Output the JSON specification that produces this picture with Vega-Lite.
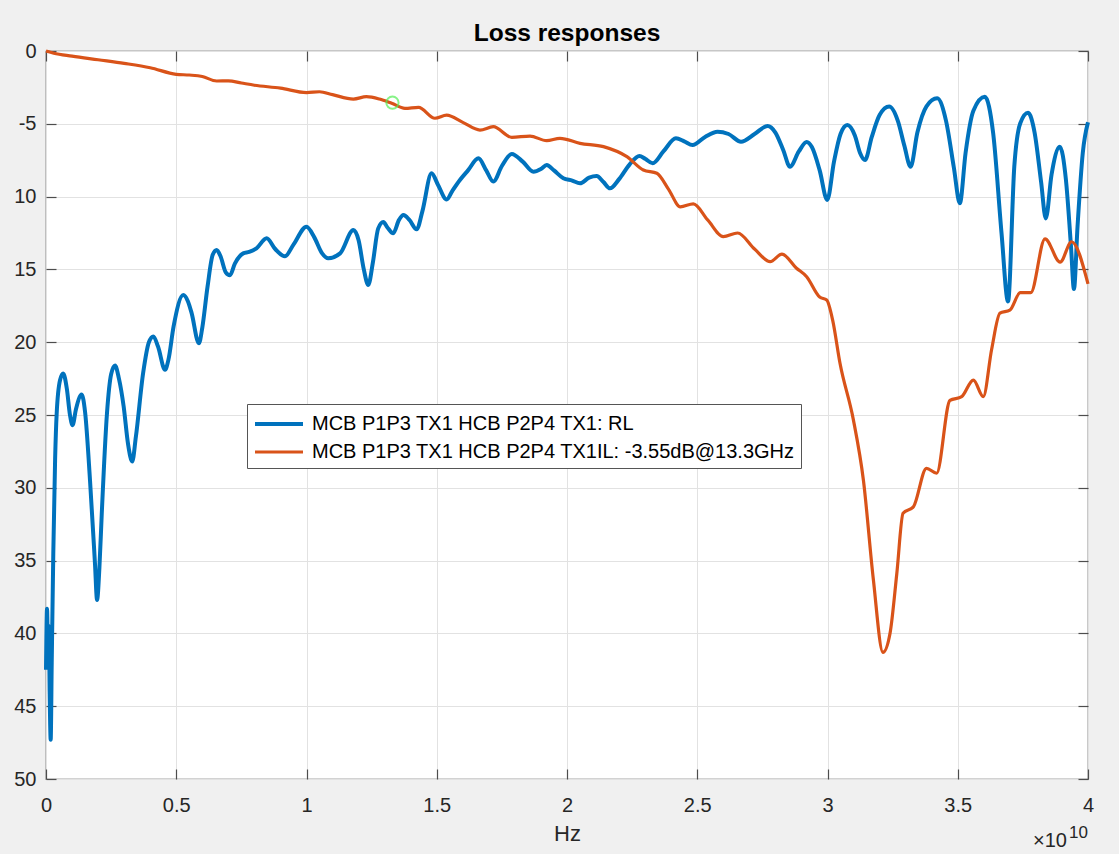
{
  "$schema": "https://vega.github.io/schema/vega-lite/v6.json",
  "width": 1042,
  "height": 728,
  "autosize": {"type": "none"},
  "padding": {"left": 46, "top": 51, "right": 31, "bottom": 75},
  "background": "#f0f0f0",
  "title": {"text": "Loss responses", "fontSize": 24.5, "fontWeight": "bold", "font": "Liberation Sans", "color": "#000000", "offset": -5, "anchor": "middle"},
  "config": {
    "view": {"fill": "white", "stroke": "#4d4d4d", "strokeWidth": 1.2},
    "font": "Liberation Sans"
  },
  "datasets": {
    "curves": [
      {"f": 0.0, "v": -42.5, "s": "RL"},
      {"f": 0.04, "v": -38.3, "s": "RL"},
      {"f": 0.08, "v": -41.8, "s": "RL"},
      {"f": 0.11, "v": -39.5, "s": "RL"},
      {"f": 0.14, "v": -44, "s": "RL"},
      {"f": 0.18, "v": -47.3, "s": "RL"},
      {"f": 0.22, "v": -42, "s": "RL"},
      {"f": 0.28, "v": -34.5, "s": "RL"},
      {"f": 0.35, "v": -28, "s": "RL"},
      {"f": 0.41, "v": -24.9, "s": "RL"},
      {"f": 0.54, "v": -22.6, "s": "RL"},
      {"f": 0.66, "v": -22.15, "s": "RL"},
      {"f": 0.8, "v": -23.2, "s": "RL"},
      {"f": 0.92, "v": -25, "s": "RL"},
      {"f": 1.02, "v": -25.7, "s": "RL"},
      {"f": 1.15, "v": -24.6, "s": "RL"},
      {"f": 1.37, "v": -23.6, "s": "RL"},
      {"f": 1.5, "v": -24.8, "s": "RL"},
      {"f": 1.69, "v": -29.5, "s": "RL"},
      {"f": 1.88, "v": -35.2, "s": "RL"},
      {"f": 1.96, "v": -37.7, "s": "RL"},
      {"f": 2.05, "v": -35.5, "s": "RL"},
      {"f": 2.14, "v": -31.8, "s": "RL"},
      {"f": 2.34, "v": -24.9, "s": "RL"},
      {"f": 2.5, "v": -22.2, "s": "RL"},
      {"f": 2.65, "v": -21.6, "s": "RL"},
      {"f": 2.8, "v": -22.5, "s": "RL"},
      {"f": 2.98, "v": -24.4, "s": "RL"},
      {"f": 3.15, "v": -27, "s": "RL"},
      {"f": 3.31, "v": -28.2, "s": "RL"},
      {"f": 3.45, "v": -26.5, "s": "RL"},
      {"f": 3.73, "v": -22.1, "s": "RL"},
      {"f": 3.95, "v": -20, "s": "RL"},
      {"f": 4.12, "v": -19.6, "s": "RL"},
      {"f": 4.3, "v": -20.3, "s": "RL"},
      {"f": 4.57, "v": -21.9, "s": "RL"},
      {"f": 4.7, "v": -21.2, "s": "RL"},
      {"f": 4.9, "v": -18.9, "s": "RL"},
      {"f": 5.27, "v": -16.76, "s": "RL"},
      {"f": 5.45, "v": -17.2, "s": "RL"},
      {"f": 5.59, "v": -18, "s": "RL"},
      {"f": 5.87, "v": -20.08, "s": "RL"},
      {"f": 6.0, "v": -19, "s": "RL"},
      {"f": 6.2, "v": -16.2, "s": "RL"},
      {"f": 6.4, "v": -14, "s": "RL"},
      {"f": 6.55, "v": -13.67, "s": "RL"},
      {"f": 6.7, "v": -14.1, "s": "RL"},
      {"f": 6.9, "v": -15.2, "s": "RL"},
      {"f": 7.06, "v": -15.4, "s": "RL"},
      {"f": 7.25, "v": -14.6, "s": "RL"},
      {"f": 7.57, "v": -13.9, "s": "RL"},
      {"f": 7.8, "v": -13.8, "s": "RL"},
      {"f": 8.08, "v": -13.55, "s": "RL"},
      {"f": 8.47, "v": -12.86, "s": "RL"},
      {"f": 8.8, "v": -13.6, "s": "RL"},
      {"f": 9.17, "v": -14.1, "s": "RL"},
      {"f": 9.5, "v": -13.3, "s": "RL"},
      {"f": 10.0, "v": -12.07, "s": "RL"},
      {"f": 10.3, "v": -12.8, "s": "RL"},
      {"f": 10.6, "v": -13.9, "s": "RL"},
      {"f": 10.83, "v": -14.24, "s": "RL"},
      {"f": 11.29, "v": -13.9, "s": "RL"},
      {"f": 11.8, "v": -12.3, "s": "RL"},
      {"f": 12.0, "v": -13, "s": "RL"},
      {"f": 12.2, "v": -15, "s": "RL"},
      {"f": 12.37, "v": -16.07, "s": "RL"},
      {"f": 12.55, "v": -14.5, "s": "RL"},
      {"f": 12.75, "v": -12.2, "s": "RL"},
      {"f": 12.95, "v": -11.75, "s": "RL"},
      {"f": 13.1, "v": -12.1, "s": "RL"},
      {"f": 13.33, "v": -12.52, "s": "RL"},
      {"f": 13.55, "v": -11.6, "s": "RL"},
      {"f": 13.72, "v": -11.26, "s": "RL"},
      {"f": 13.95, "v": -11.6, "s": "RL"},
      {"f": 14.23, "v": -12.25, "s": "RL"},
      {"f": 14.45, "v": -11, "s": "RL"},
      {"f": 14.8, "v": -8.4, "s": "RL"},
      {"f": 15.05, "v": -9.2, "s": "RL"},
      {"f": 15.38, "v": -10.2, "s": "RL"},
      {"f": 15.6, "v": -9.6, "s": "RL"},
      {"f": 15.89, "v": -8.86, "s": "RL"},
      {"f": 16.2, "v": -8.2, "s": "RL"},
      {"f": 16.6, "v": -7.37, "s": "RL"},
      {"f": 16.9, "v": -8.2, "s": "RL"},
      {"f": 17.17, "v": -8.97, "s": "RL"},
      {"f": 17.5, "v": -7.9, "s": "RL"},
      {"f": 17.88, "v": -7.07, "s": "RL"},
      {"f": 18.3, "v": -7.6, "s": "RL"},
      {"f": 18.71, "v": -8.29, "s": "RL"},
      {"f": 19.0, "v": -8.1, "s": "RL"},
      {"f": 19.22, "v": -7.83, "s": "RL"},
      {"f": 19.5, "v": -8.2, "s": "RL"},
      {"f": 19.86, "v": -8.74, "s": "RL"},
      {"f": 20.2, "v": -8.9, "s": "RL"},
      {"f": 20.5, "v": -9.09, "s": "RL"},
      {"f": 20.85, "v": -8.7, "s": "RL"},
      {"f": 21.14, "v": -8.59, "s": "RL"},
      {"f": 21.4, "v": -9.0, "s": "RL"},
      {"f": 21.65, "v": -9.43, "s": "RL"},
      {"f": 22.0, "v": -8.8, "s": "RL"},
      {"f": 22.4, "v": -7.8, "s": "RL"},
      {"f": 22.78, "v": -7.21, "s": "RL"},
      {"f": 23.0, "v": -7.4, "s": "RL"},
      {"f": 23.29, "v": -7.71, "s": "RL"},
      {"f": 23.7, "v": -6.9, "s": "RL"},
      {"f": 24.18, "v": -6.0, "s": "RL"},
      {"f": 24.5, "v": -6.2, "s": "RL"},
      {"f": 24.82, "v": -6.46, "s": "RL"},
      {"f": 25.3, "v": -5.9, "s": "RL"},
      {"f": 25.78, "v": -5.54, "s": "RL"},
      {"f": 26.2, "v": -5.7, "s": "RL"},
      {"f": 26.68, "v": -6.23, "s": "RL"},
      {"f": 27.2, "v": -5.7, "s": "RL"},
      {"f": 27.7, "v": -5.15, "s": "RL"},
      {"f": 28.0, "v": -5.6, "s": "RL"},
      {"f": 28.3, "v": -6.8, "s": "RL"},
      {"f": 28.56, "v": -7.95, "s": "RL"},
      {"f": 28.9, "v": -6.9, "s": "RL"},
      {"f": 29.2, "v": -6.25, "s": "RL"},
      {"f": 29.4, "v": -6.6, "s": "RL"},
      {"f": 29.7, "v": -8.2, "s": "RL"},
      {"f": 29.99, "v": -10.23, "s": "RL"},
      {"f": 30.25, "v": -7.6, "s": "RL"},
      {"f": 30.5, "v": -5.7, "s": "RL"},
      {"f": 30.76, "v": -5.08, "s": "RL"},
      {"f": 31.05, "v": -5.8, "s": "RL"},
      {"f": 31.25, "v": -7, "s": "RL"},
      {"f": 31.44, "v": -7.49, "s": "RL"},
      {"f": 31.7, "v": -5.9, "s": "RL"},
      {"f": 32.0, "v": -4.4, "s": "RL"},
      {"f": 32.37, "v": -3.82, "s": "RL"},
      {"f": 32.7, "v": -4.8, "s": "RL"},
      {"f": 32.95, "v": -6.5, "s": "RL"},
      {"f": 33.19, "v": -7.95, "s": "RL"},
      {"f": 33.45, "v": -5.6, "s": "RL"},
      {"f": 33.8, "v": -3.8, "s": "RL"},
      {"f": 34.21, "v": -3.25, "s": "RL"},
      {"f": 34.55, "v": -4.8, "s": "RL"},
      {"f": 34.85, "v": -8, "s": "RL"},
      {"f": 35.08, "v": -10.46, "s": "RL"},
      {"f": 35.3, "v": -7, "s": "RL"},
      {"f": 35.6, "v": -4.1, "s": "RL"},
      {"f": 36.04, "v": -3.14, "s": "RL"},
      {"f": 36.36, "v": -5.65, "s": "RL"},
      {"f": 36.68, "v": -12.5, "s": "RL"},
      {"f": 36.93, "v": -17.2, "s": "RL"},
      {"f": 37.17, "v": -7.95, "s": "RL"},
      {"f": 37.4, "v": -4.96, "s": "RL"},
      {"f": 37.7, "v": -4.24, "s": "RL"},
      {"f": 37.95, "v": -5.6, "s": "RL"},
      {"f": 38.2, "v": -9, "s": "RL"},
      {"f": 38.38, "v": -11.5, "s": "RL"},
      {"f": 38.6, "v": -8.5, "s": "RL"},
      {"f": 38.92, "v": -6.57, "s": "RL"},
      {"f": 39.15, "v": -8.8, "s": "RL"},
      {"f": 39.35, "v": -13.5, "s": "RL"},
      {"f": 39.46, "v": -16.35, "s": "RL"},
      {"f": 39.6, "v": -12, "s": "RL"},
      {"f": 39.8, "v": -7, "s": "RL"},
      {"f": 40.0, "v": -4.9, "s": "RL"},
      {"f": 0, "v": 0, "s": "IL"},
      {"f": 0.3, "v": -0.15, "s": "IL"},
      {"f": 1, "v": -0.35, "s": "IL"},
      {"f": 2, "v": -0.6, "s": "IL"},
      {"f": 3, "v": -0.85, "s": "IL"},
      {"f": 4, "v": -1.15, "s": "IL"},
      {"f": 5, "v": -1.6, "s": "IL"},
      {"f": 5.5, "v": -1.65, "s": "IL"},
      {"f": 6, "v": -1.75, "s": "IL"},
      {"f": 6.55, "v": -2.06, "s": "IL"},
      {"f": 7, "v": -2.05, "s": "IL"},
      {"f": 7.5, "v": -2.2, "s": "IL"},
      {"f": 8, "v": -2.35, "s": "IL"},
      {"f": 9, "v": -2.55, "s": "IL"},
      {"f": 10, "v": -2.86, "s": "IL"},
      {"f": 10.5, "v": -2.8, "s": "IL"},
      {"f": 11, "v": -3.0, "s": "IL"},
      {"f": 11.8, "v": -3.3, "s": "IL"},
      {"f": 12.3, "v": -3.14, "s": "IL"},
      {"f": 12.8, "v": -3.3, "s": "IL"},
      {"f": 13.27, "v": -3.59, "s": "IL"},
      {"f": 13.78, "v": -3.94, "s": "IL"},
      {"f": 14.3, "v": -3.87, "s": "IL"},
      {"f": 14.93, "v": -4.62, "s": "IL"},
      {"f": 15.38, "v": -4.4, "s": "IL"},
      {"f": 16.0, "v": -4.9, "s": "IL"},
      {"f": 16.66, "v": -5.43, "s": "IL"},
      {"f": 17.17, "v": -5.2, "s": "IL"},
      {"f": 17.88, "v": -5.93, "s": "IL"},
      {"f": 18.58, "v": -5.84, "s": "IL"},
      {"f": 19.22, "v": -6.16, "s": "IL"},
      {"f": 19.73, "v": -6.0, "s": "IL"},
      {"f": 20.5, "v": -6.34, "s": "IL"},
      {"f": 21.4, "v": -6.57, "s": "IL"},
      {"f": 22.3, "v": -7.26, "s": "IL"},
      {"f": 22.93, "v": -8.17, "s": "IL"},
      {"f": 23.45, "v": -8.4, "s": "IL"},
      {"f": 23.9, "v": -9.5, "s": "IL"},
      {"f": 24.35, "v": -10.7, "s": "IL"},
      {"f": 24.85, "v": -10.5, "s": "IL"},
      {"f": 25.4, "v": -11.6, "s": "IL"},
      {"f": 26.0, "v": -12.75, "s": "IL"},
      {"f": 26.55, "v": -12.5, "s": "IL"},
      {"f": 27.2, "v": -13.6, "s": "IL"},
      {"f": 27.8, "v": -14.47, "s": "IL"},
      {"f": 28.25, "v": -13.95, "s": "IL"},
      {"f": 28.8, "v": -14.9, "s": "IL"},
      {"f": 29.2, "v": -15.5, "s": "IL"},
      {"f": 29.7, "v": -16.9, "s": "IL"},
      {"f": 29.97, "v": -17.1, "s": "IL"},
      {"f": 30.2, "v": -18.5, "s": "IL"},
      {"f": 30.48, "v": -21.45, "s": "IL"},
      {"f": 30.99, "v": -25.3, "s": "IL"},
      {"f": 31.38, "v": -29.5, "s": "IL"},
      {"f": 31.76, "v": -36.3, "s": "IL"},
      {"f": 32.13, "v": -41.3, "s": "IL"},
      {"f": 32.4, "v": -40, "s": "IL"},
      {"f": 32.66, "v": -35.9, "s": "IL"},
      {"f": 32.9, "v": -31.75, "s": "IL"},
      {"f": 33.3, "v": -31.3, "s": "IL"},
      {"f": 33.8, "v": -28.66, "s": "IL"},
      {"f": 34.19, "v": -29.0, "s": "IL"},
      {"f": 34.7, "v": -24.0, "s": "IL"},
      {"f": 35.15, "v": -23.74, "s": "IL"},
      {"f": 35.6, "v": -22.6, "s": "IL"},
      {"f": 35.98, "v": -23.74, "s": "IL"},
      {"f": 36.3, "v": -20.5, "s": "IL"},
      {"f": 36.62, "v": -18.0, "s": "IL"},
      {"f": 37.0, "v": -17.8, "s": "IL"},
      {"f": 37.4, "v": -16.6, "s": "IL"},
      {"f": 37.8, "v": -16.6, "s": "IL"},
      {"f": 38.35, "v": -12.9, "s": "IL"},
      {"f": 38.93, "v": -14.5, "s": "IL"},
      {"f": 39.37, "v": -13.1, "s": "IL"},
      {"f": 40.0, "v": -16.0, "s": "IL"}
    ],
    "marker": [{"f": 13.3, "v": -3.55}],
    "corner": [{"f": 40, "v": -50, "base": "×10", "exp": "10"}]
  },
  "layer": [
    {
      "data": {"name": "curves"},
      "mark": {"type": "line", "interpolate": "monotone"},
      "encoding": {
        "x": {
          "field": "f", "type": "quantitative",
          "scale": {"domain": [0, 40], "nice": false, "zero": false},
          "axis": {
            "values": [0, 5, 10, 15, 20, 25, 30, 35, 40],
            "labelExpr": "'' + datum.value / 10",
            "title": "Hz",
            "grid": true, "gridColor": "#e2e2e2", "gridWidth": 1,
            "domain": false,
            "tickSize": -10, "tickColor": "#4d4d4d", "tickWidth": 1.2,
            "labelFontSize": 20, "labelColor": "#262626", "labelPadding": 26,
            "labelFlush": false,
            "titleFontSize": 22, "titleFontWeight": "normal", "titleColor": "#262626", "titlePadding": 8
          }
        },
        "y": {
          "field": "v", "type": "quantitative",
          "scale": {"domain": [-50, 0], "nice": false, "zero": false},
          "axis": {
            "values": [-50, -45, -40, -35, -30, -25, -20, -15, -10, -5, 0],
            "labelExpr": "datum.value == 0 ? '0' : datum.value == -5 ? '-5' : '' + (-datum.value)",
            "title": null,
            "grid": true, "gridColor": "#e2e2e2", "gridWidth": 1,
            "domain": false,
            "tickSize": -10, "tickColor": "#4d4d4d", "tickWidth": 1.2,
            "labelFontSize": 20, "labelColor": "#262626", "labelPadding": 20,
            "labelFlush": false
          }
        },
        "color": {
          "field": "s", "type": "nominal",
          "scale": {"domain": ["RL", "IL"], "range": ["#0072BD", "#D95319"]},
          "legend": {
            "orient": "none", "legendX": 201, "legendY": 353,
            "title": null,
            "labelExpr": "datum.value == 'RL' ? 'MCB P1P3 TX1 HCB P2P4 TX1: RL' : 'MCB P1P3 TX1 HCB P2P4 TX1IL: -3.55dB@13.3GHz'",
            "symbolType": "M-2,0H2", "symbolSize": 576, "symbolStrokeWidth": 4, "symbolOffset": 12,
            "labelFontSize": 20, "labelColor": "#000000", "labelOffset": 19, "labelLimit": 1000,
            "fillColor": "white", "strokeColor": "#555555", "padding": 6, "rowPadding": 4,
            "cornerRadius": 0
          }
        },
        "strokeWidth": {
          "field": "s", "type": "nominal",
          "scale": {"domain": ["RL", "IL"], "range": [4, 3.2]},
          "legend": null
        }
      }
    },
    {
      "data": {"name": "marker"},
      "mark": {"type": "point", "shape": "circle", "filled": false, "stroke": "#55ee55", "strokeWidth": 2, "size": 150},
      "encoding": {
        "x": {
          "field": "f", "type": "quantitative",
          "axis": {"orient": "top", "values": [0, 5, 10, 15, 20, 25, 30, 35, 40], "labels": false, "title": null, "grid": false, "domain": false, "tickSize": -10, "tickColor": "#4d4d4d", "tickWidth": 1.2}
        },
        "y": {
          "field": "v", "type": "quantitative",
          "axis": {"orient": "right", "values": [-50, -45, -40, -35, -30, -25, -20, -15, -10, -5, 0], "labels": false, "title": null, "grid": false, "domain": false, "tickSize": -10, "tickColor": "#4d4d4d", "tickWidth": 1.2}
        }
      }
    },
    {
      "data": {"name": "corner"},
      "mark": {"type": "text", "align": "right", "baseline": "alphabetic", "dx": -21, "dy": 68, "fontSize": 20, "color": "#262626"},
      "encoding": {
        "x": {"field": "f", "type": "quantitative", "axis": null},
        "y": {"field": "v", "type": "quantitative", "axis": null},
        "text": {"field": "base"}
      }
    },
    {
      "data": {"name": "corner"},
      "mark": {"type": "text", "align": "right", "baseline": "alphabetic", "dx": 0, "dy": 59, "fontSize": 17, "color": "#262626"},
      "encoding": {
        "x": {"field": "f", "type": "quantitative", "axis": null},
        "y": {"field": "v", "type": "quantitative", "axis": null},
        "text": {"field": "exp"}
      }
    }
  ],
  "resolve": {"axis": {"x": "independent", "y": "independent"}}
}
